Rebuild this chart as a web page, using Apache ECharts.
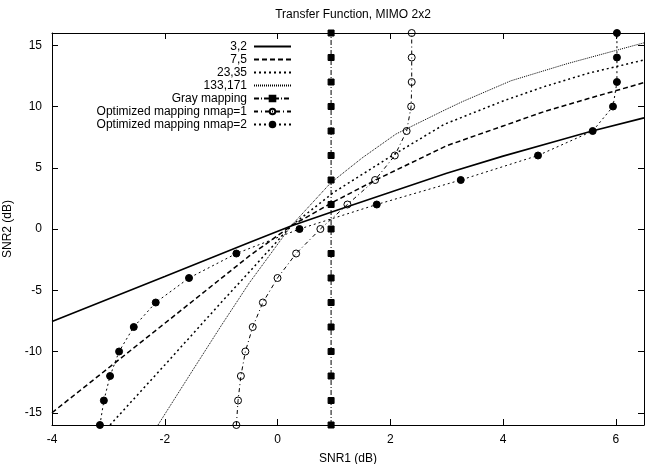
<!DOCTYPE html>
<html>
<head>
<meta charset="utf-8">
<script src="https://cdn.jsdelivr.net/npm/echarts@6/dist/echarts.min.js"></script>
<style>
  html, body { margin: 0; padding: 0; background: #fff; }
  #chart { width: 651px; height: 464px; }
</style>
</head>
<body>
<div id="chart"></div>
<script>
// tick positions
const xTicks = [-4, -2, 0, 2, 4, 6]
const yTicks = [-15, -10, -5, 0, 5, 10, 15]

// transfer curves (SNR1, SNR2)
const c32X = [-4, -2, -0.5, 0.24, 1, 2, 3, 4, 5, 5.58, 6.5]
const c32Y = [-7.55, -3.87, -1.1, 0.25, 1.45, 3.0, 4.55, 5.95, 7.25, 8.0, 9.07]

const c75X = [-4, -2, -0.5, 0.24, 1, 1.74, 3, 4, 4.73, 5.5, 6.5]
const c75Y = [-15, -7.7, -2.2, 0.25, 2.23, 4.0, 6.8, 8.41, 9.59, 10.63, 11.95]

const c2335X = [-2.97, -2, -1, -0.5, 0.24, 1, 2, 2.96, 4, 4.73, 5.5, 6.5]
const c2335Y = [-16, -11.1, -6.0, -3.5, 0.25, 3.0, 5.9, 8.55, 10.45, 11.62, 12.7, 13.8]

const c133X = [-2.12, -1.5, -1, -0.5, 0.24, 0.94, 1.5, 2.1, 2.96, 3.28, 4.14, 5.14, 6.5]
const c133Y = [-16, -11.5, -7.9, -4.4, 0.25, 3.75, 5.8, 7.75, 9.7, 10.4, 12.1, 13.5, 15.2]

// mapping points
const mapY = [-16, -14, -12, -10, -8, -6, -4, -2, 0, 2, 4, 6, 8, 10, 12, 14, 16]
const grayX = [0.95, 0.95, 0.95, 0.95, 0.95, 0.95, 0.95, 0.95, 0.95, 0.95, 0.95, 0.95, 0.95, 0.95, 0.95, 0.95, 0.95]
const nmap1X = [-0.73, -0.70, -0.65, -0.57, -0.44, -0.26, 0.0, 0.33, 0.76, 1.24, 1.73, 2.08, 2.29, 2.37, 2.38, 2.38, 2.38]
const nmap2X = [-3.15, -3.08, -2.97, -2.81, -2.55, -2.16, -1.57, -0.73, 0.39, 1.76, 3.25, 4.62, 5.59, 5.95, 6.02, 6.02, 6.02]

const zip = (xs, ys) => xs.map((x, i) => [x, ys[i]])

const chart = echarts.init(document.getElementById('chart'))

const font = 'Liberation Sans, Arial, sans-serif'

const curve = (name, xs, ys, type, width) => ({
  name: name,
  type: 'line',
  data: zip(xs, ys),
  symbol: 'none',
  clip: false,
  lineStyle: { color: '#000', width: width, type: type },
  itemStyle: { color: 'rgba(0,0,0,0)', borderWidth: 0 }
})

const marked = (name, xs, symbol, size, fill, dash) => ({
  name: name,
  type: 'line',
  data: zip(xs, mapY),
  symbol: symbol,
  symbolSize: size,
  showSymbol: true,
  clip: false,
  lineStyle: { color: '#000', width: 1, type: dash },
  itemStyle: { color: fill, borderColor: '#000', borderWidth: 1 }
})

const frameAxis = {
  axisLine: { onZero: false, lineStyle: { color: '#000', width: 1 } },
  splitLine: { show: false }
}

const option = {
  animation: false,
  backgroundColor: '#fff',
  textStyle: { fontFamily: font },
  title: {
    text: 'Transfer Function, MIMO 2x2',
    left: 348,
    textAlign: 'center',
    top: 4,
    textStyle: { fontSize: 12, fontWeight: 'normal', color: '#000', fontFamily: font }
  },
  legend: {
    orient: 'vertical',
    align: 'right',
    right: 354,
    top: 35,
    itemWidth: 37,
    itemHeight: 7,
    itemGap: 0,
    textStyle: { fontSize: 12, color: '#000', lineHeight: 13, padding: [0, 2, 0, 0], fontFamily: font },
    data: ['3,2', '7,5', '23,35', '133,171', 'Gray mapping', 'Optimized mapping nmap=1', 'Optimized mapping nmap=2']
  },
  grid: { left: 52, right: 7, top: 33, bottom: 39, containLabel: false, outerBoundsMode: 'none' },
  xAxis: [
    {
      ...frameAxis,
      type: 'value',
      min: -4,
      max: 6.5,
      name: 'SNR1 (dB)',
      nameLocation: 'middle',
      nameGap: 28,
      nameTextStyle: { fontSize: 12, color: '#000', fontFamily: font },
      axisTick: { inside: true, length: 6, customValues: xTicks, lineStyle: { color: '#000' } },
      axisLabel: { customValues: xTicks, fontSize: 12, color: '#000', margin: 9, fontFamily: font }
    },
    {
      ...frameAxis,
      type: 'value',
      position: 'top',
      min: -4,
      max: 6.5,
      axisTick: { inside: true, length: 6, customValues: xTicks, lineStyle: { color: '#000' } },
      axisLabel: { show: false }
    }
  ],
  yAxis: [
    {
      ...frameAxis,
      type: 'value',
      min: -16,
      max: 16,
      name: 'SNR2 (dB)',
      nameLocation: 'middle',
      nameGap: 38,
      nameTextStyle: { fontSize: 12, color: '#000', fontFamily: font },
      axisTick: { inside: true, length: 6, customValues: yTicks, lineStyle: { color: '#000' } },
      axisLabel: { customValues: yTicks, fontSize: 12, color: '#000', margin: 10, fontFamily: font }
    },
    {
      ...frameAxis,
      type: 'value',
      position: 'right',
      min: -16,
      max: 16,
      axisTick: { inside: true, length: 6, customValues: yTicks, lineStyle: { color: '#000' } },
      axisLabel: { show: false }
    }
  ],
  series: [
    curve('3,2', c32X, c32Y, 'solid', 1.6),
    curve('7,5', c75X, c75Y, [5, 3], 1.5),
    curve('23,35', c2335X, c2335Y, [2, 3], 1.5),
    curve('133,171', c133X, c133Y, [1, 1], 1),
    marked('Gray mapping', grayX, 'rect', 6, '#000', [5, 2, 1, 2]),
    marked('Optimized mapping nmap=1', nmap1X, 'circle', 7, 'rgba(255,255,255,0)', [4, 3, 1, 3]),
    marked('Optimized mapping nmap=2', nmap2X, 'circle', 7, '#000', [2, 3])
  ]
}

chart.setOption(option)
</script>
</body>
</html>
